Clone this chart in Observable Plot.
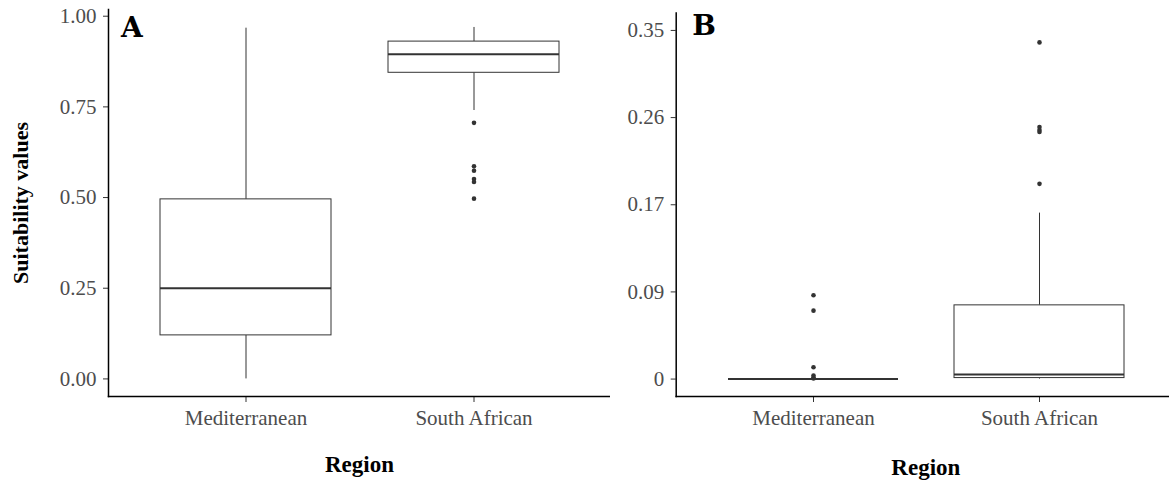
<!DOCTYPE html>
<html><head><meta charset="utf-8">
<script src="https://cdn.jsdelivr.net/npm/d3@7"></script>
<script src="https://cdn.jsdelivr.net/npm/@observablehq/plot@0.6"></script>
<style>
html,body{margin:0;padding:0;background:#fff;overflow:hidden}
body{width:1169px;height:485px;position:relative}
#a{position:absolute;left:0;top:0;width:610px;height:485px}
#b{position:absolute;left:610px;top:0;width:565px;height:485px}
</style></head>
<body><div id="a"></div><div id="b"></div>
<script>
const regions = ["Mediterranean", "South African"];

// Panel A: suitability values
const aWhiskerLow  = [0.000, 0.740];
const aQ1          = [0.120, 0.844];
const aMedian      = [0.250, 0.895];
const aQ3          = [0.495, 0.930];
const aWhiskerHigh = [0.967, 0.969];
const aOutlierRegion = ["South African","South African","South African","South African","South African","South African"];
const aOutlierValue  = [0.706, 0.586, 0.574, 0.551, 0.543, 0.497];
const aTicks = [0, 0.25, 0.5, 0.75, 1];
const aTickLabels = ["0.00", "0.25", "0.50", "0.75", "1.00"];

// Panel B
const bWhiskerLow  = [0.000, 0.000];
const bQ1          = [0.000, 0.001];
const bMedian      = [0.000, 0.0046];
const bQ3          = [0.000, 0.074];
const bWhiskerHigh = [0.000, 0.1666];
const bOutlierRegion = ["Mediterranean","Mediterranean","Mediterranean","Mediterranean","Mediterranean","Mediterranean",
                        "South African","South African","South African","South African","South African"];
const bOutlierValue  = [0.0841, 0.0687, 0.0119, 0.0036, 0.0015, 0.0005,
                        0.338, 0.253, 0.250, 0.248, 0.196];
const bTicks = [0, 0.0875, 0.175, 0.2625, 0.35];
const bTickLabels = ["0", "0.09", "0.17", "0.26", "0.35"];

function stats(low, q1, med, q3, high) {
  return regions.map((r, i) => ({region: r, low: low[i], q1: q1[i], median: med[i], q3: q3[i], high: high[i]}));
}
function outliers(reg, val) {
  return reg.map((r, i) => ({region: r, value: val[i]}));
}

function panel({width, marginLeft, marginTop, marginBottom, yDomain, ticks, labels, st, out, letter, letterDx, letterDy, regionDy, yTitle}) {
  const marks = [
    Plot.ruleX(st, {x: "region", y1: "low", y2: "q1", stroke: "#333", strokeWidth: 1}),
    Plot.ruleX(st, {x: "region", y1: "q3", y2: "high", stroke: "#333", strokeWidth: 1}),
    Plot.barY(st, {x: "region", y1: "q1", y2: "q3", fill: "white", stroke: "#333", strokeWidth: 1}),
    Plot.tickY(st, {x: "region", y: "median", stroke: "#333", strokeWidth: 2}),
    Plot.dot(out, {x: "region", y: "value", r: 2.3, fill: "#333", stroke: null}),
    Plot.axisY(ticks, {tickFormat: d => labels[ticks.indexOf(d)], tickSize: 5, tickPadding: 7, stroke: "#333", fill: "#4d4d4d", fontSize: 21, label: null}),
    Plot.axisX({tickSize: 6, tickPadding: 7.4, stroke: "#333", fill: "#4d4d4d", fontSize: 21, label: null}),
    Plot.frame({anchor: "left", stroke: "black", strokeWidth: 1.5}),
    Plot.frame({anchor: "bottom", stroke: "black", strokeWidth: 1.5}),
    Plot.text([letter], {frameAnchor: "top-left", dx: letterDx, dy: letterDy, lineAnchor: "top", textAnchor: "start",
      fontFamily: "DejaVu Serif", fontWeight: "bold", fontSize: 28, fill: "black"}),
    Plot.text(["Region"], {frameAnchor: "bottom", dy: regionDy, lineAnchor: "middle", textAnchor: "middle",
      fontFamily: "Liberation Serif", fontWeight: "bold", fontSize: 23, fill: "black"})
  ];
  if (yTitle) {
    marks.push(Plot.text([yTitle], {frameAnchor: "left", dx: -88, rotate: -90, lineAnchor: "middle", textAnchor: "middle",
      fontFamily: "Liberation Serif", fontWeight: "bold", fontSize: 22, fill: "black"}));
  }
  return Plot.plot({
    width, height: 485,
    marginLeft, marginRight: 0, marginTop, marginBottom,
    style: {fontFamily: "Liberation Serif", fontSize: "21px", background: "white", maxWidth: "none", overflow: "visible"},
    x: {domain: regions, paddingInner: 0.25, paddingOuter: 0.225, label: null, axis: null},
    y: {domain: yDomain, label: null, axis: null},
    marks
  });
}

document.getElementById("a").appendChild(panel({
  width: 610, marginLeft: 108, marginTop: 9, marginBottom: 89,
  yDomain: [-0.0485, 1.0185], ticks: aTicks, labels: aTickLabels,
  st: stats(aWhiskerLow, aQ1, aMedian, aQ3, aWhiskerHigh), out: outliers(aOutlierRegion, aOutlierValue),
  letter: "A", letterDx: 12.5, letterDy: 8, regionDy: 68.6, yTitle: "Suitability values"
}));
document.getElementById("b").appendChild(panel({
  width: 565, marginLeft: 65.7, marginTop: 12.5, marginBottom: 89,
  yDomain: [-0.0175, 0.3675], ticks: bTicks, labels: bTickLabels,
  st: stats(bWhiskerLow, bQ1, bMedian, bQ3, bWhiskerHigh), out: outliers(bOutlierRegion, bOutlierValue),
  letter: "B", letterDx: 16, letterDy: 2, regionDy: 71.5, yTitle: null
}));
</script>
</body></html>
